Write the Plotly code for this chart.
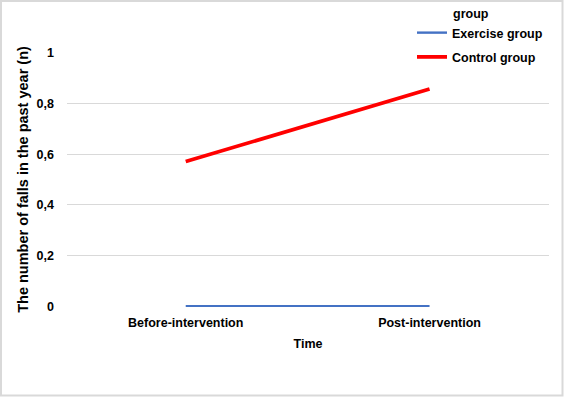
import plotly.graph_objects as go

categories = ["Before-intervention", "Post-intervention"]
exercise_group = [0, 0]
control_group = [0.571, 0.857]
y_ticks = [0, 0.2, 0.4, 0.6, 0.8, 1]

W, H = 564, 397
L, R, T, B = 67, 549, 52, 307
pw, ph = R - L, B - T

def px_x(p):
    return (p - L) / pw

def px_y(p):
    return (B - p) / ph

font = "Liberation Sans, Arial, sans-serif"
fs = 12.5

fig = go.Figure()
fig.add_trace(go.Scatter(x=[0, 1], y=exercise_group, mode="lines", name="Exercise group",
                         legendgroup="a", line=dict(color="#4472C4", width=2.4)))
fig.add_trace(go.Scatter(x=[0, 1], y=control_group, mode="lines", name="Control group",
                         legendgroup="b", line=dict(color="#FF0000", width=3.8)))

fig.update_layout(
    width=W, height=H,
    margin=dict(l=L, r=W - R, t=T, b=H - B),
    paper_bgcolor="white", plot_bgcolor="white",
    font=dict(family=font, size=fs, color="black"),
    separators=",.",
    showlegend=True,
    legend=dict(x=px_x(412), y=px_y(18), xanchor="left", yanchor="top",
                bgcolor="rgba(0,0,0,0)", font=dict(size=fs, family=font, weight="bold"),
                traceorder="grouped", tracegroupgap=5, itemwidth=30),
    xaxis=dict(range=[-0.487, 1.49], tickmode="array", tickvals=[0, 1], ticktext=categories,
               showgrid=False, zeroline=False, showline=False, ticks="",
               ticklabelstandoff=6,
               tickfont=dict(size=fs, family=font, weight="bold"),
               title=dict(text="Time", font=dict(size=fs, family=font, weight="bold"), standoff=10)),
    yaxis=dict(range=[-0.003, 1.003], tickmode="array", tickvals=y_ticks,
               showgrid=True, gridcolor="#d9d9d9", gridwidth=1, zeroline=False,
               showline=False, ticks="", ticklabelstandoff=12,
               tickfont=dict(size=fs, family=font, weight="bold"),
               title=dict(text="The number of falls in the past year (n)",
                          font=dict(size=14.5, family=font, weight="bold"), standoff=4)),
)

fig.add_annotation(text="<b>group</b>", x=px_x(451), y=px_y(14), xref="paper", yref="paper",
                   xanchor="left", yanchor="middle", showarrow=False,
                   font=dict(size=fs, family=font, color="black"))

fig.add_shape(type="rect", xref="paper", yref="paper",
              x0=px_x(1), x1=px_x(562.5), y0=px_y(395.5), y1=px_y(1),
              line=dict(color="#d9d9d9", width=2), layer="below")

fig.write_html("out.html", config={"displayModeBar": False},
               post_script="document.body.style.margin='0';document.body.style.overflow='hidden';")
